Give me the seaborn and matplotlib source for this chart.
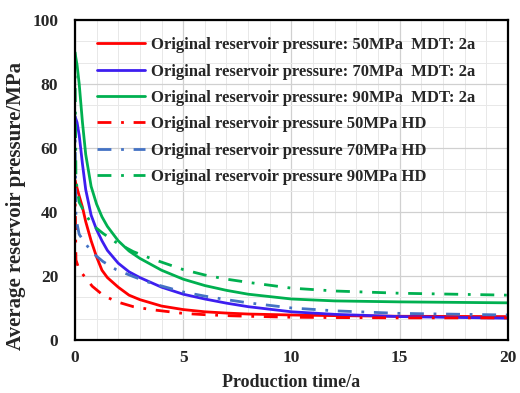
import numpy as np
import pandas as pd
import matplotlib
matplotlib.use("Agg")
import matplotlib.pyplot as plt
import seaborn as sns
from matplotlib.ticker import MultipleLocator

# Data
x_mdt = [0, 0.1, 0.2, 0.35, 0.5, 0.75, 1, 1.25, 1.5, 2, 2.5, 3, 4, 5, 6, 7, 8, 10, 12, 15, 20]
red_mdt = [50, 47.5, 45, 41.5, 37, 31, 26, 21.8, 19.5, 16.5, 14, 12.6, 10.6, 9.5, 8.8, 8.4, 8.1, 7.8, 7.6, 7.4, 7.3]
blue_mdt = [70, 68, 64, 55, 47, 39, 34.5, 31, 28, 24, 21.3, 19.5, 16.5, 14.3, 12.8, 11.5, 10.4, 8.8, 8.0, 7.3, 6.8]
green_mdt = [90, 86, 80, 68, 58, 48, 42.5, 38.5, 35.5, 31, 27.8, 25.5, 21.8, 19, 17, 15.5, 14.3, 12.8, 12.2, 11.9, 11.6]

x_hd = [0, 0.05, 0.2, 0.45, 0.8, 1.3, 1.9, 2.7, 3.5, 5, 6, 7, 8, 10, 12, 15, 20]
red_hd = [50, 25, 21.9, 19.8, 16.8, 14, 12, 10.4, 9.5, 8.3, 7.9, 7.6, 7.4, 7.1, 7.0, 6.9, 6.9]
blue_hd = [70, 38, 33, 30.5, 27.3, 24.5, 22, 19.8, 17.8, 15, 13.7, 12.6, 11.6, 10, 9.1, 8.3, 7.8]
green_hd = [90, 50, 43, 39.8, 36, 33.3, 30.5, 27.6, 25.5, 22, 20.3, 19, 18, 16.2, 15.3, 14.6, 14]

labels = [
    "Original reservoir pressure: 50MPa  MDT: 2a",
    "Original reservoir pressure: 70MPa  MDT: 2a",
    "Original reservoir pressure: 90MPa  MDT: 2a",
    "Original reservoir pressure 50MPa HD",
    "Original reservoir pressure 70MPa HD",
    "Original reservoir pressure 90MPa HD",
]
x_ticks = [0, 5, 10, 15, 20]
y_ticks = [0, 20, 40, 60, 80, 100]

sns.set_style("white")
plt.rcParams['font.family'] = ['Liberation Serif', 'DejaVu Serif']
plt.rcParams['font.weight'] = 'bold'

fig = plt.figure(figsize=(5.2, 3.93), dpi=100)
ax = fig.add_axes([0.144, 0.135, 0.833, 0.814])

dashdot = (0, (5, 3.5, 1, 3.5))
series = [
    (x_mdt, red_mdt, labels[0], '#FF0000', '-'),
    (x_mdt, blue_mdt, labels[1], '#3D1EF0', '-'),
    (x_mdt, green_mdt, labels[2], '#00B050', '-'),
    (x_hd, red_hd, labels[3], '#FF0000', dashdot),
    (x_hd, blue_hd, labels[4], '#4472C4', dashdot),
    (x_hd, green_hd, labels[5], '#00B050', dashdot),
]
for xs, ys, lab, col, ls in series:
    df = pd.DataFrame({"t": xs, "p": ys})
    sns.lineplot(data=df, x="t", y="p", ax=ax, color=col, linestyle=ls,
                 linewidth=2.0, label=lab)

ax.set_xlim(0, 20)
ax.set_ylim(0, 100)
ax.set_xticks(x_ticks)
ax.set_yticks(y_ticks)
ax.xaxis.set_minor_locator(MultipleLocator(1))
ax.yaxis.set_minor_locator(MultipleLocator(20 / 3))
ax.grid(which='major', color='#D0D0D0', linewidth=0.9)
ax.grid(which='minor', color='#E8E8E8', linewidth=0.7)
ax.set_axisbelow(True)
ax.tick_params(which='major', direction='in', length=4, width=1.2,
               labelsize=12.5)
ax.tick_params(axis='x', pad=7)
ax.tick_params(axis='y', pad=12)
ax.tick_params(which='minor', length=0)
for lab in ax.get_xticklabels() + ax.get_yticklabels():
    lab.set_fontweight('bold')
for sp in ax.spines.values():
    sp.set_color('black')
    sp.set_linewidth(1.6)

ax.set_xlabel("Production time/a", fontsize=13, fontweight='bold', labelpad=6)
ax.set_ylabel("Average reservoir pressure/MPa", fontsize=15, fontweight='bold')
ax.yaxis.set_label_coords(-0.113, 0.42)

leg = ax.legend(loc='upper left', bbox_to_anchor=(0.035, 0.967), frameon=False,
                fontsize=12, handlelength=2.9, labelspacing=0.62,
                handletextpad=0.35, borderaxespad=0)
for t in leg.get_texts():
    t.set_fontweight('bold')

fig.savefig("out.png", dpi=100)
